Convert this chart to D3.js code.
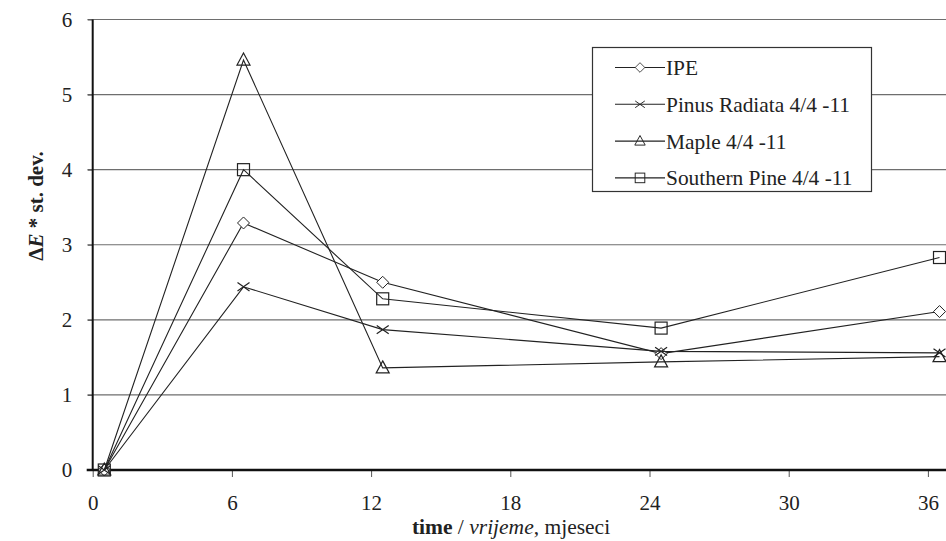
<!DOCTYPE html>
<html>
<head>
<meta charset="utf-8">
<script src="https://cdn.jsdelivr.net/npm/d3@7"></script>
<style>
  body { margin: 0; background: #fff; }
</style>
</head>
<body>
<div id="chart"></div>
<script>
// months
const months = [0.5, 6.5, 12.5, 24.5, 36.5];

// ΔE* st. dev. per series
const ipe = [0, 3.29, 2.50, 1.55, 2.11];
const pinusRadiata = [0, 2.44, 1.87, 1.58, 1.56];
const maple = [0, 5.46, 1.36, 1.44, 1.51];
const southernPine = [0, 4.00, 2.28, 1.89, 2.83];

const seriesNames = ["IPE", "Pinus Radiata 4/4 -11", "Maple 4/4 -11", "Southern Pine 4/4 -11"];
const seriesMarkers = ["diamond", "cross", "triangle", "square"];

const xTicks = [0, 6, 12, 18, 24, 30, 36];
const yTicks = [0, 1, 2, 3, 4, 5, 6];

const W = 946, H = 541;
const FONT = "'Liberation Serif', 'Times New Roman', Times";

function serif(sel, size) {
    return sel.style("font-family", FONT).style("font-size", size + "px").attr("fill", "#222");
}

const svg = d3.select("#chart").append("svg")
    .attr("width", W)
    .attr("height", H);

const x = d3.scaleLinear().domain([0, 36.78]).range([92.7, 946]);
const y = d3.scaleLinear().domain([0, 6]).range([470, 19.5]);

// gridlines
svg.append("g")
    .selectAll("line")
    .data(yTicks.filter(d => d > 0))
    .join("line")
    .attr("x1", 87.5).attr("x2", W)
    .attr("y1", d => y(d)).attr("y2", d => y(d))
    .attr("stroke", "#6e6e6e")
    .attr("stroke-width", 1.2);

// y axis
let yAxis = svg.append("g")
    .attr("transform", "translate(" + x(0) + ",0)")
    .call(d3.axisLeft(y).tickValues(yTicks).tickSize(5).tickPadding(15.5).tickFormat(d3.format("d")));
yAxis.select(".domain").remove();
yAxis.selectAll(".tick line").attr("stroke", "#555");
serif(yAxis.selectAll("text"), 21);
svg.append("line")
    .attr("x1", x(0)).attr("x2", x(0))
    .attr("y1", y(6)).attr("y2", y(0) + 1)
    .attr("stroke", "#111").attr("stroke-width", 2);

// x axis
let xAxis = svg.append("g")
    .attr("transform", "translate(0," + y(0) + ")")
    .call(d3.axisBottom(x).tickValues(xTicks).tickSize(7).tickFormat(d3.format("d")));
xAxis.select(".domain").remove();
xAxis.selectAll(".tick line").attr("stroke", "#555");
serif(xAxis.selectAll("text"), 21)
    .attr("dy", null)
    .attr("y", 40);
svg.append("line")
    .attr("x1", x(0) - 6).attr("x2", W)
    .attr("y1", y(0)).attr("y2", y(0))
    .attr("stroke", "#111").attr("stroke-width", 2.5);

// axis titles
let xt = serif(svg.append("text"), 21.5)
    .attr("x", 511).attr("y", 534)
    .attr("text-anchor", "middle");
xt.append("tspan").style("font-weight", "bold").text("time");
xt.append("tspan").text(" / ");
xt.append("tspan").style("font-style", "italic").text("vrijeme");
xt.append("tspan").text(", mjeseci");

let yt = serif(svg.append("text"), 21)
    .attr("transform", "translate(43,206) rotate(-90)")
    .attr("text-anchor", "middle")
    .style("font-weight", "bold");
yt.append("tspan").text("Δ");
yt.append("tspan").style("font-style", "italic").text("E");
yt.append("tspan").text(" * st. dev.");

// marker shapes
function drawMarker(g, type, cx, cy) {
    let s = 6;
    if (type === "diamond") {
        g.append("path")
            .attr("d", `M${cx},${cy - s} L${cx + s},${cy} L${cx},${cy + s} L${cx - s},${cy} Z`)
            .attr("fill", "#fff").attr("stroke", "#222").attr("stroke-width", 1);
    } else if (type === "square") {
        g.append("rect")
            .attr("x", cx - s).attr("y", cy - s)
            .attr("width", 2 * s).attr("height", 2 * s)
            .attr("fill", "none").attr("stroke", "#222").attr("stroke-width", 1.2);
    } else if (type === "triangle") {
        g.append("path")
            .attr("d", `M${cx},${cy - s - 1} L${cx + s + 0.5},${cy + s - 1} L${cx - s - 0.5},${cy + s - 1} Z`)
            .attr("fill", "none").attr("stroke", "#222").attr("stroke-width", 1.2);
    } else if (type === "cross") {
        g.append("path")
            .attr("d", `M${cx - s},${cy - s * 0.7} L${cx + s},${cy + s * 0.7} M${cx - s},${cy + s * 0.7} L${cx + s},${cy - s * 0.7}`)
            .attr("fill", "none").attr("stroke", "#222").attr("stroke-width", 1.2);
    }
}

const allSeries = [ipe, pinusRadiata, maple, southernPine];

const line = d3.line()
    .x((d, i) => x(months[i]))
    .y(d => y(d));

allSeries.forEach(function (vals, si) {
    let g = svg.append("g").attr("class", "series");
    g.append("path")
        .datum(vals)
        .attr("d", line)
        .attr("fill", "none")
        .attr("stroke", "#222")
        .attr("stroke-width", 1.1);
    vals.forEach(function (v, i) {
        drawMarker(g, seriesMarkers[si], x(months[i]), y(v));
    });
});

// legend
let legend = svg.append("g");
legend.append("rect")
    .attr("x", 592.5).attr("y", 47.5)
    .attr("width", 279).attr("height", 144)
    .attr("fill", "#fff")
    .attr("stroke", "#333")
    .attr("stroke-width", 1.2);

seriesNames.forEach(function (name, i) {
    let ly = 67.5 + i * 36.8;
    legend.append("line")
        .attr("x1", 615).attr("x2", 665)
        .attr("y1", ly).attr("y2", ly)
        .attr("stroke", "#222").attr("stroke-width", 1.1);
    let mg = legend.append("g").attr("transform", "translate(640," + ly + ") scale(0.8) translate(-640," + (-ly) + ")");
    drawMarker(mg, seriesMarkers[i], 640, ly);
    serif(legend.append("text"), 21.4)
        .attr("x", 666).attr("y", ly + 7.5)
        .text(name);
});
</script>
</body>
</html>
